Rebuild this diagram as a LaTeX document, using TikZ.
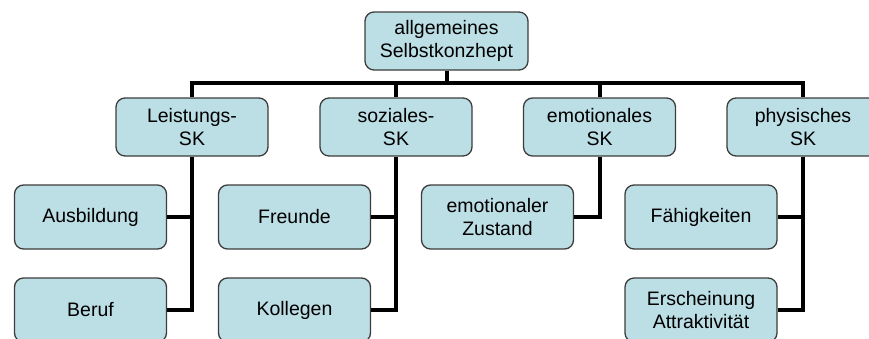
\documentclass[tikz,border=0pt]{standalone}
\usepackage{fontspec}
\setmainfont{Liberation Sans}
\definecolor{boxblue}{RGB}{188,222,229}
\definecolor{boxline}{RGB}{60,60,60}
\tikzset{
  sk/.style={draw=boxline,line width=1.3pt,fill=boxblue,rounded corners=9pt,
    align=center,inner sep=0pt,minimum width=152pt,minimum height=58pt,
    font=\fontsize{19.5}{22.5}\selectfont},
  leaf/.style={sk,minimum height=64pt},
  conn/.style={line width=4pt,line join=miter}
}
\begin{document}
\begin{tikzpicture}[x=1pt,y=-1pt]
\useasboundingbox (0,0) rectangle (869,338);
\clip (0,0) rectangle (869,338);
\node[sk,minimum width=163pt] (top) at (446.5,41) {allgemeines\\Selbstkonzhept};
\node[sk] (lk) at (192,127) {Leistungs-\\SK};
\node[sk] (sz) at (396,127) {soziales-\\SK};
\node[sk] (ek) at (599.5,127) {emotionales\\SK};
\node[sk] (pk) at (803,127) {physisches\\SK};
\node[leaf] (ausb) at (90.5,217) {Ausbildung};
\node[leaf] (beruf) at (90.5,310) {Beruf};
\node[leaf] (freunde) at (294.5,217) {Freunde};
\node[leaf] (kollegen) at (294.5,310) {Kollegen};
\node[leaf] (zustand) at (497.5,217) {emotionaler\\Zustand};
\node[leaf] (faehig) at (701,217) {Fähigkeiten};
\node[leaf] (ersch) at (701,310) {Erscheinung\\Attraktivität};
\coordinate (bus) at (446.5,83);
\draw[conn] (top.south) -- (bus);
\draw[conn] (bus) -| (lk.north);
\draw[conn] (bus) -| (pk.north);
\draw[conn] (bus -| sz.north) -- (sz.north);
\draw[conn] (bus -| ek.north) -- (ek.north);
\draw[conn] (lk.south) |- (beruf.east);
\draw[conn] (ausb.east) -- (ausb.east -| lk.south);
\draw[conn] (sz.south) |- (kollegen.east);
\draw[conn] (freunde.east) -- (freunde.east -| sz.south);
\draw[conn] (ek.south) |- (zustand.east);
\draw[conn] (pk.south) |- (ersch.east);
\draw[conn] (faehig.east) -- (faehig.east -| pk.south);
\end{tikzpicture}
\end{document}
